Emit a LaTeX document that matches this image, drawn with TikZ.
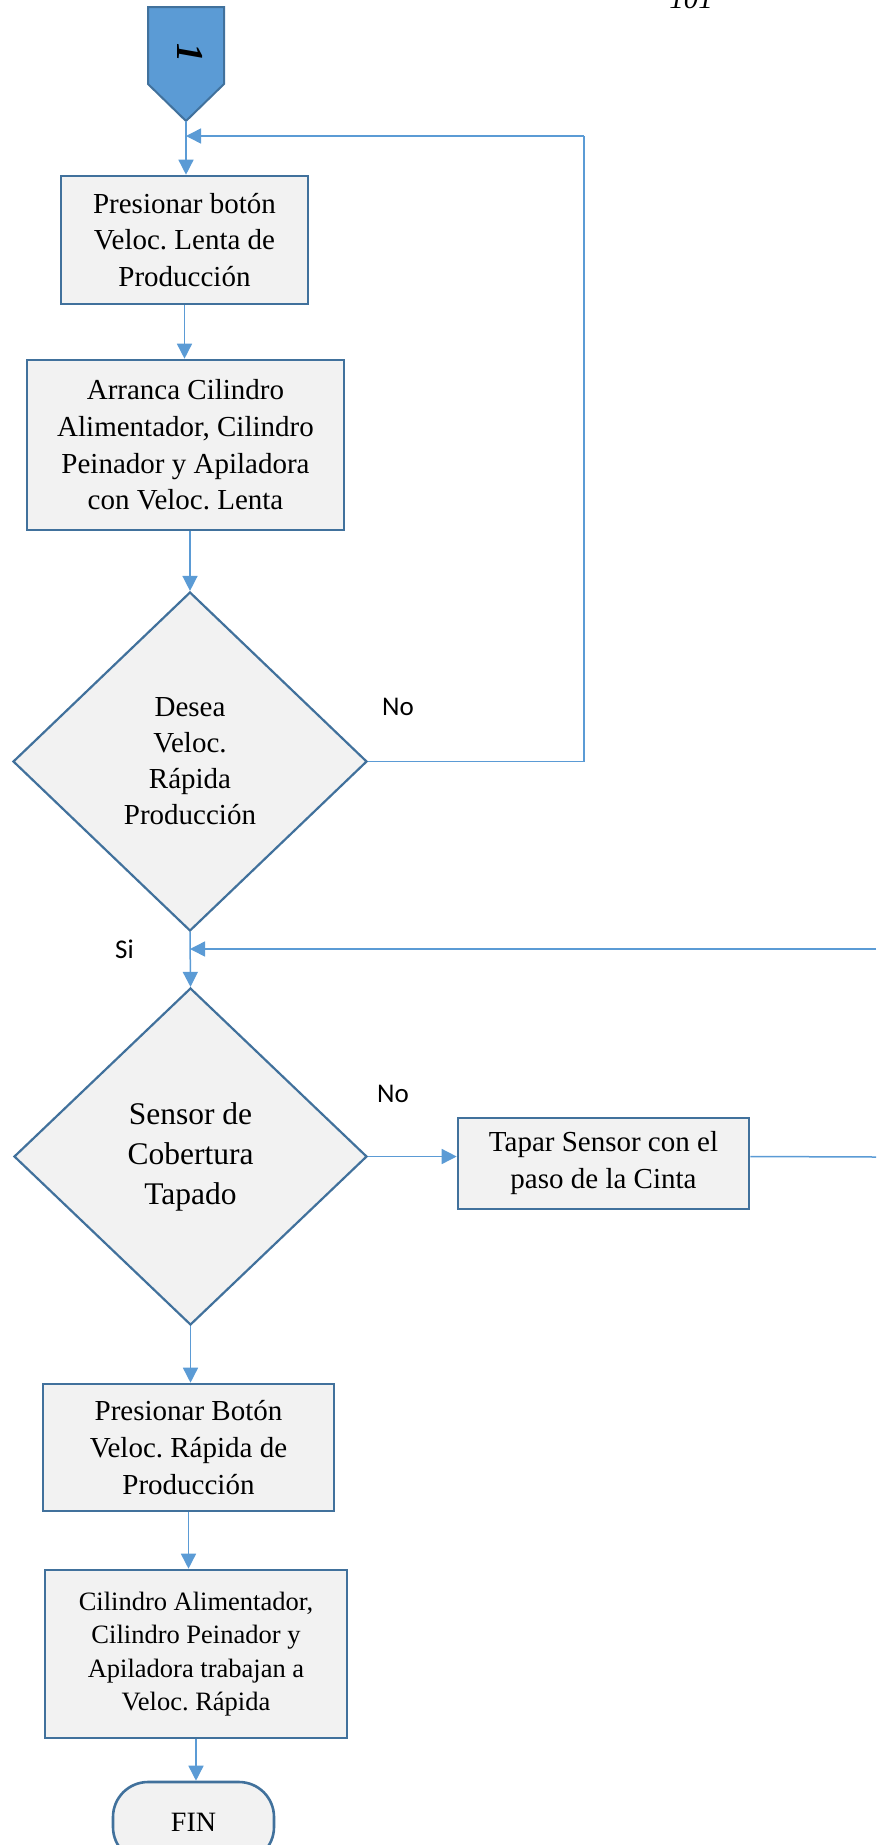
\documentclass[tikz,border=0pt]{standalone}
\usepackage{fontspec}
\setmainfont{Liberation Serif}
\newfontfamily\labelfont{Carlito}
\usetikzlibrary{shapes.geometric,arrows.meta}
\definecolor{conn}{HTML}{5B9BD5}
\definecolor{bord}{HTML}{41719C}
\definecolor{boxfill}{HTML}{F2F2F2}
\frenchspacing
\begin{document}
\begin{tikzpicture}[x=1pt,y=-1pt,
  procbox/.style={draw=bord, line width=2.6pt, fill=boxfill, inner sep=0pt, align=center,
    font=\fontsize{29}{36.6}\selectfont},
  decision/.style={diamond, draw=bord, line width=2.2pt, fill=boxfill, inner sep=0pt, align=center,
    font=\fontsize{29}{36}\selectfont},
  flow/.style={draw=conn, line width=1.5pt, -{Triangle[length=15pt,width=15pt]}},
  plainline/.style={draw=conn, line width=1.5pt},
  lbl/.style={font=\labelfont\fontsize{27}{32}\selectfont, anchor=base west, inner sep=0pt}]
\useasboundingbox (0,0) rectangle (876,1845);
\clip (0,0) rectangle (876,1845);

% page number
\node[font=\itshape\fontsize{29}{35}\selectfont, anchor=base, inner sep=0pt] (pg) at (691,8) {101};

% off-page connector
\draw[draw=bord, line width=2pt, fill=conn] (148,7) -- (224,7) -- (224,84) -- (186,121) -- (148,84) -- cycle;
\coordinate (ptip) at (186,121);
\node[font=\bfseries\itshape\fontsize{38}{40}\selectfont, rotate=-90, inner sep=0pt] (c1) at (190,53) {1};

\node[procbox, minimum width=247pt, minimum height=128pt] (b1) at (184.5,240)
  {Presionar botón\\Veloc. Lenta de\\Producción};
\node[procbox, minimum width=317pt, minimum height=170pt] (b2) at (185.5,445)
  {Arranca Cilindro\\Alimentador, Cilindro\\Peinador y Apiladora\\con Veloc. Lenta};
\node[decision, minimum width=354pt, minimum height=339pt] (d1) at (190,761.5)
  {Desea\\Veloc.\\Rápida\\Producción};
\node[decision, minimum width=353pt, minimum height=337pt, font=\fontsize{31.5}{40}\selectfont] (d2) at (190.5,1156.5)
  {Sensor de\\Cobertura\\Tapado};
\node[procbox, minimum width=291pt, minimum height=91pt, font=\fontsize{29}{37}\selectfont] (b3) at (603.5,1163.5)
  {Tapar Sensor con el\\paso de la Cinta};
\node[procbox, minimum width=291pt, minimum height=127pt] (b4) at (188.5,1447.5)
  {Presionar Botón\\Veloc. Rápida de\\Producción};
\node[procbox, minimum width=302pt, minimum height=168pt, font=\fontsize{26.5}{33.3}\selectfont] (b5) at (196,1654)
  {Cilindro Alimentador,\\Cilindro Peinador y\\Apiladora trabajan a\\Veloc. Rápida};
\node[procbox, rounded corners=35pt, minimum width=161pt, minimum height=80pt, font=\fontsize{28}{34}\selectfont] (fin) at (193.5,1822)
  {FIN};

% labels
\node[lbl] (no1) at (382,715) {No};
\node[lbl] (si) at (115,958) {Si};
\node[lbl] (no2) at (377,1102) {No};

% coordinates for loops
\coordinate (m1) at (186,136);
\coordinate (r1) at (584,136);
\coordinate (m2) at (190,949);
\coordinate (e2) at (876,949);
\coordinate (e3) at (876,1157);

% connectors
\draw[flow] (ptip) -- (ptip |- b1.north);
\draw[flow] (b1.south) -- (b1.south |- b2.north);
\draw[flow] (b2.south -| d1.north) -- (d1.north);
\draw[plainline] (d1.east) -| (r1);
\draw[flow] (r1) -- (m1);
\draw[flow] (d1.south) -- (d2.north);
\draw[flow] (e2) -- (m2);
\draw[flow] (d2.east) -- (d2.east -| b3.west);
\draw[plainline] (b3.east |- d2.east) -- (e3);
\draw[flow] (d2.south) -- (d2.south |- b4.north);
\draw[flow] (b4.south) -- (b4.south |- b5.north);
\draw[flow] (b5.south) -- (b5.south |- fin.north);
\end{tikzpicture}
\end{document}
